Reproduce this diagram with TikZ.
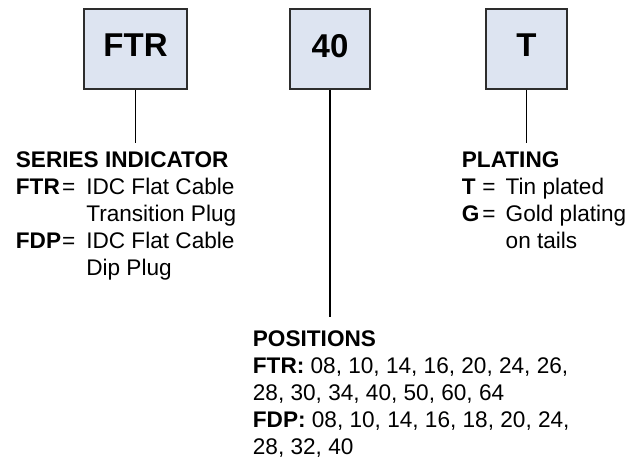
\documentclass[tikz,border=0pt]{standalone}
\usepackage{fontspec}
\setmainfont{Liberation Sans}
\definecolor{boxfill}{RGB}{221,228,241}
\definecolor{boxline}{RGB}{45,45,45}
\begin{document}
\begin{tikzpicture}[x=1pt,y=-1pt,line width=1.8pt,
 font=\fontsize{22.6}{27.2}\selectfont,
 partbox/.style={draw=boxline,line width=1.2pt,fill=boxfill,inner sep=0pt,
  minimum height=80pt,text depth=7pt,font=\fontsize{33}{36}\selectfont\bfseries},
 legend/.style={anchor=base west,inner sep=0pt}]
 \useasboundingbox (0,0) rectangle (639,458);
 % part number boxes
 \node[partbox,minimum width=103pt] (ftr) at (135.5,49) {FTR};
 \node[partbox,minimum width=80pt] (pos) at (330,49) {40};
 \node[partbox,minimum width=81pt] (plt) at (526.5,49) {T};
 % legends
 \node[legend] (series) at (15,167) {\begin{tabular}[t]{@{}l@{\hspace{1pt}}l@{\hspace{11pt}}l@{}}
  \multicolumn{3}{@{}l@{}}{\bfseries SERIES INDICATOR}\\
  \bfseries FTR & = & IDC Flat Cable\\
  & & Transition Plug\\
  \bfseries FDP & = & IDC Flat Cable\\
  & & Dip Plug
 \end{tabular}};
 \node[legend] (positions) at (252,346) {\begin{tabular}[t]{@{}l@{}}
  \bfseries POSITIONS\\
  \textbf{FTR:} 08, 10, 14, 16, 20, 24, 26,\\
  28, 30, 34, 40, 50, 60, 64\\
  \textbf{FDP:} 08, 10, 14, 16, 18, 20, 24,\\
  28, 32, 40
 \end{tabular}};
 \node[legend] (plating) at (461,167) {\begin{tabular}[t]{@{}l@{\hspace{3pt}}l@{\hspace{10pt}}l@{}}
  \multicolumn{3}{@{}l@{}}{\bfseries PLATING}\\
  \bfseries T & = & Tin plated\\
  \bfseries G & = & Gold plating\\
  & & on tails
 \end{tabular}};
 % connectors
 \coordinate (seriestop) at (135.5,143);
 \coordinate (postop) at (330,317);
 \coordinate (platingtop) at (526.5,143);
 \draw (ftr) -- (seriestop);
 \draw (pos) -- (postop);
 \draw (plt) -- (platingtop);
\end{tikzpicture}
\end{document}
